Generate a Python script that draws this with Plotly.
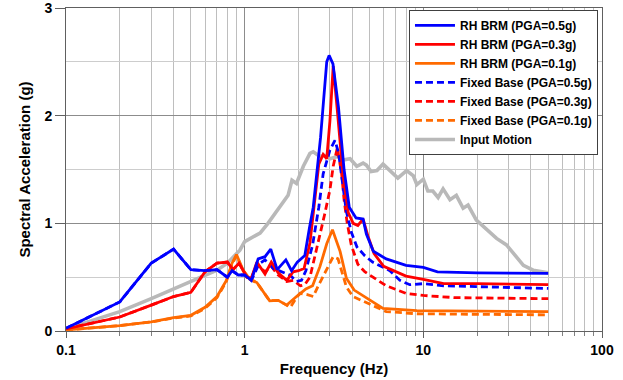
import plotly.graph_objects as go

# ---------------- data ----------------
freq_rh05 = [0.1, 0.2, 0.3, 0.4, 0.5, 0.6, 0.7, 0.8, 0.85, 0.92, 1.0, 1.09, 1.19, 1.3, 1.4, 1.52, 1.7, 1.83,
             1.97, 2.17, 2.3, 2.42, 2.66, 2.88, 2.97, 3.12, 3.35, 3.6, 3.85, 4.2, 4.6, 4.8, 5.25, 6.2, 8.0, 10, 12, 20, 50]
sa_rh05 = [0.025, 0.27, 0.63, 0.76, 0.57, 0.56, 0.57, 0.50, 0.56, 0.52, 0.52, 0.47, 0.67, 0.69, 0.76, 0.57, 0.66, 0.56,
           0.64, 0.70, 0.95, 1.15, 1.80, 2.50, 2.56, 2.48, 2.08, 1.50, 1.15, 1.05, 1.04, 0.90, 0.74, 0.67, 0.61, 0.59, 0.55, 0.54, 0.535]

freq_rh03 = [0.1, 0.2, 0.3, 0.4, 0.5, 0.6, 0.7, 0.8, 0.86, 0.93, 1.03, 1.09, 1.17, 1.3, 1.41, 1.54, 1.72, 1.87, 2.0,
             2.15, 2.32, 2.46, 2.6, 2.75, 2.88, 3.0, 3.13, 3.3, 3.55, 3.8, 4.05, 4.3, 4.6, 4.9, 5.3, 6.0, 7.0, 8.0, 10, 13, 20, 50]
sa_rh03 = [0.02, 0.13, 0.24, 0.32, 0.36, 0.55, 0.63, 0.64, 0.57, 0.63, 0.50, 0.49, 0.64, 0.53, 0.64, 0.54, 0.47, 0.55, 0.56,
           0.58, 0.82, 1.22, 1.55, 1.64, 1.60, 1.95, 2.46, 2.05, 1.45, 1.10, 1.00, 0.98, 1.04, 0.88, 0.72, 0.60, 0.55, 0.51, 0.48, 0.44, 0.44, 0.43]

freq_rh01 = [0.1, 0.2, 0.3, 0.4, 0.5, 0.6, 0.7, 0.79, 0.85, 0.9, 0.98, 1.07, 1.17, 1.27, 1.38, 1.54, 1.72, 1.95, 2.2,
             2.4, 2.64, 2.88, 3.1, 3.42, 3.71, 4.1, 4.8, 5.95, 9.2, 20, 50]
sa_rh01 = [0.01, 0.05, 0.084, 0.125, 0.146, 0.22, 0.32, 0.47, 0.63, 0.71, 0.565, 0.48, 0.45, 0.37, 0.28, 0.285, 0.24, 0.32, 0.39,
           0.42, 0.60, 0.81, 0.94, 0.74, 0.49, 0.38, 0.31, 0.21, 0.19, 0.185, 0.18]

freq_fb05 = [0.1, 0.2, 0.3, 0.4, 0.5, 0.6, 0.7, 0.8, 0.85, 0.92, 1.0, 1.09, 1.2, 1.3, 1.45, 1.6, 1.79, 1.95, 2.08, 2.2,
             2.4, 2.6, 2.75, 3.0, 3.2, 3.35, 3.55, 3.7, 3.95, 4.25, 4.7, 5.2, 6.5, 7.4, 8.4, 10, 13, 20, 50]
sa_fb05 = [0.025, 0.27, 0.63, 0.76, 0.57, 0.56, 0.57, 0.50, 0.56, 0.52, 0.52, 0.47, 0.62, 0.66, 0.58, 0.55, 0.52, 0.46, 0.47, 0.56,
           0.80, 1.15, 1.46, 1.68, 1.77, 1.66, 1.37, 1.12, 0.92, 0.78, 0.70, 0.64, 0.56, 0.47, 0.43, 0.44, 0.42, 0.41, 0.395]

freq_fb03 = [0.1, 0.2, 0.3, 0.4, 0.5, 0.6, 0.7, 0.8, 0.86, 0.93, 1.03, 1.09, 1.17, 1.3, 1.41, 1.54, 1.72, 1.87, 2.05,
             2.17, 2.32, 2.5, 2.8, 3.0, 3.13, 3.3, 3.49, 3.6, 3.75, 3.95, 4.3, 4.7, 5.2, 6.2, 8.0, 10, 15, 50]
sa_fb03 = [0.02, 0.13, 0.24, 0.32, 0.36, 0.55, 0.63, 0.64, 0.57, 0.63, 0.50, 0.49, 0.62, 0.55, 0.60, 0.52, 0.46, 0.47, 0.42,
           0.43, 0.50, 0.72, 1.08, 1.31, 1.53, 1.70, 1.46, 1.22, 1.00, 0.80, 0.62, 0.55, 0.50, 0.42, 0.35, 0.33, 0.31, 0.30]

freq_fb01 = [0.1, 0.2, 0.3, 0.4, 0.5, 0.6, 0.7, 0.79, 0.85, 0.9, 0.98, 1.07, 1.17, 1.27, 1.38, 1.54, 1.72, 1.8, 1.95,
             2.04, 2.22, 2.42, 2.6, 2.88, 3.13, 3.33, 3.6, 3.71, 4.04, 4.32, 5.0, 6.2, 9.2, 20, 50]
sa_fb01 = [0.01, 0.05, 0.084, 0.12, 0.14, 0.21, 0.31, 0.46, 0.62, 0.70, 0.56, 0.48, 0.45, 0.37, 0.28, 0.285, 0.24, 0.22, 0.31,
           0.35, 0.34, 0.32, 0.43, 0.57, 0.69, 0.67, 0.47, 0.41, 0.32, 0.30, 0.25, 0.18, 0.16, 0.155, 0.15]

freq_input = [0.1, 0.2, 0.3, 0.4, 0.5, 0.6, 0.7, 0.8, 0.94, 1.0, 1.07, 1.22, 1.35, 1.48, 1.64, 1.75, 1.84, 1.95, 2.13,
              2.32, 2.42, 2.64, 2.8, 3.0, 3.3, 3.6, 3.89, 4.24, 4.6, 4.8, 5.1, 5.5, 5.95, 6.75, 7.2, 8.06, 8.8, 9.2,
              10, 10.6, 11.3, 12.1, 12.9, 14.1, 15.3, 16.7, 17.8, 19.8, 22.6, 25.7, 29.2, 32.6, 36.3, 41.2, 50]
sa_input = [0.02, 0.18, 0.30, 0.39, 0.455, 0.52, 0.565, 0.63, 0.75, 0.83, 0.86, 0.91, 1.00, 1.09, 1.19, 1.26, 1.40, 1.37, 1.53,
            1.65, 1.665, 1.62, 1.63, 1.60, 1.62, 1.59, 1.60, 1.53, 1.56, 1.54, 1.48, 1.49, 1.55, 1.47, 1.42, 1.49, 1.44, 1.36,
            1.41, 1.30, 1.30, 1.24, 1.32, 1.22, 1.26, 1.14, 1.17, 1.03, 0.94, 0.86, 0.80, 0.70, 0.61, 0.565, 0.54]

x_tick_vals = [0.1, 1, 10, 100]
x_tick_text = ["0.1", "1", "10", "100"]
x_minor_vals = [m * d for d in (0.1, 1, 10) for m in range(2, 10)]
y_tick_vals = [0, 1, 2, 3]

BLUE, RED, ORANGE, GRAY = "#0000FF", "#FF0000", "#FF6A00", "#B9B9B9"
FONT = "Liberation Sans, Arial, sans-serif"
LW = 2.8

fig = go.Figure()
# gray drawn first (behind), listed last in legend
fig.add_trace(go.Scatter(x=freq_input, y=sa_input, mode="lines", name="Input Motion",
                         line=dict(color=GRAY, width=3.6), legendrank=7))
fig.add_trace(go.Scatter(x=freq_fb01, y=sa_fb01, mode="lines", name="Fixed Base (PGA=0.1g)",
                         line=dict(color=ORANGE, width=LW, dash="7px,4px"), legendrank=6))
fig.add_trace(go.Scatter(x=freq_fb03, y=sa_fb03, mode="lines", name="Fixed Base (PGA=0.3g)",
                         line=dict(color=RED, width=LW, dash="7px,4px"), legendrank=5))
fig.add_trace(go.Scatter(x=freq_fb05, y=sa_fb05, mode="lines", name="Fixed Base (PGA=0.5g)",
                         line=dict(color=BLUE, width=LW, dash="7px,4px"), legendrank=4))
fig.add_trace(go.Scatter(x=freq_rh01, y=sa_rh01, mode="lines", name="RH BRM (PGA=0.1g)",
                         line=dict(color=ORANGE, width=LW), legendrank=3))
fig.add_trace(go.Scatter(x=freq_rh03, y=sa_rh03, mode="lines", name="RH BRM (PGA=0.3g)",
                         line=dict(color=RED, width=LW), legendrank=2))
fig.add_trace(go.Scatter(x=freq_rh05, y=sa_rh05, mode="lines", name="RH BRM (PGA=0.5g)",
                         line=dict(color=BLUE, width=LW), legendrank=1))

fig.update_layout(
    width=623, height=380,
    margin=dict(l=66, r=21, t=8, b=49, autoexpand=False),
    paper_bgcolor="white", plot_bgcolor="white",
    font=dict(family=FONT, size=14, color="#000000", weight="bold"),
    showlegend=True,
    legend=dict(x=0.9925, y=0.994, xanchor="right", yanchor="top",
                bgcolor="white", bordercolor="#404040", borderwidth=1,
                font=dict(family=FONT, size=12, color="#000000", weight="bold"),
                tracegroupgap=0, itemwidth=40),
)

fig.update_xaxes(
    type="log", range=[-1, 2], automargin=False, ticklabeloverflow="allow",
    tickmode="array", tickvals=x_tick_vals, ticktext=x_tick_text,
    ticks="outside", ticklen=6, tickcolor="#606060",
    showgrid=True, gridcolor="#8C8C8C", gridwidth=1,
    minor=dict(tickmode="array", tickvals=x_minor_vals, ticks="outside", ticklen=4,
               tickcolor="#808080", showgrid=True, gridcolor="#BEBEBE", gridwidth=1),
    showline=True, linecolor="#606060", linewidth=1, mirror=True,
    zeroline=False,
    tickfont=dict(family=FONT, size=14, weight="bold"),
    title=dict(text="Frequency (Hz)", font=dict(family=FONT, size=15, weight="bold"), standoff=6),
)
fig.update_yaxes(
    range=[0, 3], automargin=False, ticklabeloverflow="allow",
    tickmode="array", tickvals=y_tick_vals,
    ticks="outside", ticklen=10, tickcolor="#606060",
    showgrid=True, gridcolor="#8C8C8C", gridwidth=1,
    minor=dict(dtick=0.5, ticks="", showgrid=True, gridcolor="#CDCDCD", gridwidth=1),
    showline=True, linecolor="#606060", linewidth=1, mirror=True,
    zeroline=False,
    tickfont=dict(family=FONT, size=14, weight="bold"),
    title=dict(text="Spectral Acceleration (g)", font=dict(family=FONT, size=15, weight="bold"), standoff=10),
)

fig.write_html("out.html")
